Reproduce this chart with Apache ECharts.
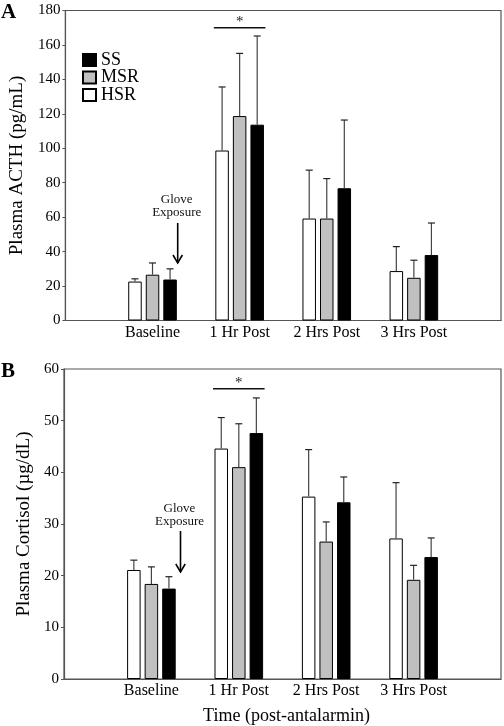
<!DOCTYPE html>
<html><head><meta charset="utf-8">
<script src="https://cdn.jsdelivr.net/npm/echarts@6/dist/echarts.min.js"></script>
<style>html,body{margin:0;padding:0;background:#fff}#c{width:504px;height:726px}</style>
</head><body><div id="c"></div>
<script>
// ---- data ----
const categories = ['', 'Baseline', '1 Hr Post', '2 Hrs Post', '3 Hrs Post', ''];
const groupNames = ['HSR', 'MSR', 'SS'];
const legendOrder = ['SS', 'MSR', 'HSR'];
// Panel A: Plasma ACTH (pg/mL) – means and tops of error bars
const acthHSR = [22.6, 98.7, 59.2, 28.7];
const acthHSRTop = [24.2, 135.6, 87.3, 42.9];
const acthMSR = [26.6, 118.7, 59.2, 24.8];
const acthMSRTop = [33.4, 155.1, 82.4, 35.0];
const acthSS = [23.8, 113.7, 76.8, 38.0];
const acthSSTop = [30.0, 165.2, 116.4, 56.6];
const acthSig = 170;
// Panel B: Plasma Cortisol (µg/dL)
const cortHSR = [21.1, 44.6, 35.3, 27.2];
const cortHSRTop = [23.0, 50.6, 44.4, 38.0];
const cortMSR = [18.4, 41.0, 26.6, 19.2];
const cortMSRTop = [21.7, 49.4, 30.4, 22.0];
const cortSS = [17.5, 47.6, 34.2, 23.6];
const cortSSTop = [19.8, 54.4, 39.1, 27.3];
const cortSig = 56.2;
const sigCategory = 2; // 1 Hr Post
const acthTicks = {min: 0, max: 180, interval: 20};
const cortTicks = {min: 0, max: 60, interval: 10};

// ---- style ----
const FONT = 'Liberation Serif';
const BAR_W = 13.5, BAR_GAP = 0.3;
const STEP = BAR_W * (1 + BAR_GAP);
const fills = {HSR: '#ffffff', MSR: '#c0c0c0', SS: '#000000'};
const AXIS_COLOR = '#555';
const ERR_COLOR = '#444';

const chart = echarts.init(document.getElementById('c'), null, {renderer: 'canvas'});

function barSeries(name, vals, gi) {
  return {
    type: 'bar', name: name, xAxisIndex: gi, yAxisIndex: gi,
    barWidth: BAR_W, barGap: (BAR_GAP * 100) + '%',
    itemStyle: {color: fills[name], borderColor: '#000', borderWidth: 1},
    data: vals.map((v, i) => [i + 1, v]),
    animation: false, z: 2
  };
}
function errSeries(name, k, vals, tops, gi) {
  return {
    type: 'custom', name: name, xAxisIndex: gi, yAxisIndex: gi, silent: true, z: 3,
    data: vals.map((v, i) => [i + 1, v, tops[i]]),
    renderItem: function (params, api) {
      const p0 = api.coord([api.value(0), api.value(1)]);
      const p1 = api.coord([api.value(0), api.value(2)]);
      const x = p0[0] + (k - 1) * STEP;
      return {type: 'group', children: [
        {type: 'line', shape: {x1: x, y1: p0[1], x2: x, y2: p1[1]}, style: {stroke: ERR_COLOR, lineWidth: 1.2}},
        {type: 'line', shape: {x1: x - 3.5, y1: p1[1], x2: x + 3.5, y2: p1[1]}, style: {stroke: '#222', lineWidth: 1.2}}
      ]};
    },
    animation: false
  };
}
function sigSeries(cat, val, gi) {
  return {
    type: 'custom', xAxisIndex: gi, yAxisIndex: gi, silent: true, z: 3,
    data: [[cat, val]],
    renderItem: function (params, api) {
      const p = api.coord([api.value(0), api.value(1)]);
      const half = (3 * BAR_W + 2 * (STEP - BAR_W)) / 2 + 1.5;
      return {type: 'group', children: [
        {type: 'line', shape: {x1: p[0] - half, y1: p[1], x2: p[0] + half, y2: p[1]}, style: {stroke: '#111', lineWidth: 1.5}},
        {type: 'text', x: p[0], y: p[1] - 6, style: {text: '*', font: '15px "' + FONT + '"', fill: '#222', align: 'center', verticalAlign: 'middle'}}
      ]};
    },
    animation: false
  };
}

const series = [];
[[acthHSR, acthHSRTop], [acthMSR, acthMSRTop], [acthSS, acthSSTop]].forEach((d, k) => {
  series.push(barSeries(groupNames[k], d[0], 0));
  series.push(errSeries(groupNames[k], k, d[0], d[1], 0));
});
[[cortHSR, cortHSRTop], [cortMSR, cortMSRTop], [cortSS, cortSSTop]].forEach((d, k) => {
  series.push(barSeries(groupNames[k], d[0], 1));
  series.push(errSeries(groupNames[k], k, d[0], d[1], 1));
});
series.push(sigSeries(sigCategory, acthSig, 0));
series.push(sigSeries(sigCategory, cortSig, 1));

function xAxis(gi, name) {
  return {
    type: 'category', gridIndex: gi, data: categories, boundaryGap: false,
    axisLine: {lineStyle: {color: AXIS_COLOR, width: 1.2}},
    axisTick: {show: false},
    axisLabel: {interval: 0, color: '#000', fontFamily: FONT, fontSize: 16, margin: 4},
    splitLine: {show: false},
    name: name || '', nameLocation: 'middle', nameGap: 28,
    nameTextStyle: {color: '#000', fontFamily: FONT, fontSize: 18, padding: [0, 0, 0, 8]}
  };
}
function yAxis(gi, t, name) {
  return {
    type: 'value', gridIndex: gi, min: t.min, max: t.max, interval: t.interval,
    axisLine: {show: true, lineStyle: {color: AXIS_COLOR, width: 1.2}},
    axisTick: {show: true, inside: false, length: 3, lineStyle: {color: AXIS_COLOR}},
    axisLabel: {color: '#000', fontFamily: FONT, fontSize: 15, margin: 5},
    splitLine: {show: false},
    name: name, nameLocation: 'middle', nameGap: 30,
    nameTextStyle: {color: '#000', fontFamily: FONT, fontSize: 19}
  };
}

function arrow(cx, yTop, yBot, textY) {
  return [
    {type: 'text', x: cx, y: textY, style: {text: 'Glove', font: '13px "' + FONT + '"', fill: '#111', align: 'center', verticalAlign: 'middle'}},
    {type: 'text', x: cx, y: textY + 13, style: {text: 'Exposure', font: '13px "' + FONT + '"', fill: '#111', align: 'center', verticalAlign: 'middle'}},
    {type: 'line', shape: {x1: cx + 1, y1: yTop, x2: cx + 1, y2: yBot}, style: {stroke: '#000', lineWidth: 1.6}},
    {type: 'polyline', shape: {points: [[cx - 3.7, yBot - 8], [cx + 1, yBot], [cx + 5.7, yBot - 8]]}, style: {stroke: '#000', lineWidth: 1.6, fill: null}}
  ];
}

const option = {
  backgroundColor: '#fff',
  animation: false,
  textStyle: {fontFamily: FONT},
  legend: {
    data: legendOrder, orient: 'vertical', left: 82, top: 51, icon: 'rect',
    itemWidth: 13, itemHeight: 12, itemGap: -0.5, padding: 0,
    textStyle: {fontFamily: FONT, fontSize: 18, color: '#000', lineHeight: 16},
    selectedMode: false
  },
  grid: [
    {left: 62, right: 3, top: 10.5, bottom: 405.5, show: true, borderColor: AXIS_COLOR, borderWidth: 1.2, backgroundColor: 'transparent'},
    {left: 64, right: 2.3, top: 369, bottom: 46, show: true, borderColor: AXIS_COLOR, borderWidth: 1.2, backgroundColor: 'transparent'}
  ],
  xAxis: [xAxis(0), xAxis(1, 'Time (post-antalarmin)')],
  yAxis: [yAxis(0, acthTicks, 'Plasma ACTH (pg/mL)'), yAxis(1, cortTicks, 'Plasma Cortisol (µg/dL)')],
  series: series,
  graphic: [
    {type: 'text', x: 1, y: 2, style: {text: 'A', font: 'bold 21px "' + FONT + '"', fill: '#000'}},
    {type: 'text', x: 1, y: 361, style: {text: 'B', font: 'bold 21px "' + FONT + '"', fill: '#000'}}
  ].concat(arrow(176.7, 223, 263, 199.5)).concat(arrow(179.5, 531, 572, 509))
};
chart.setOption(option);
</script>
</body></html>
